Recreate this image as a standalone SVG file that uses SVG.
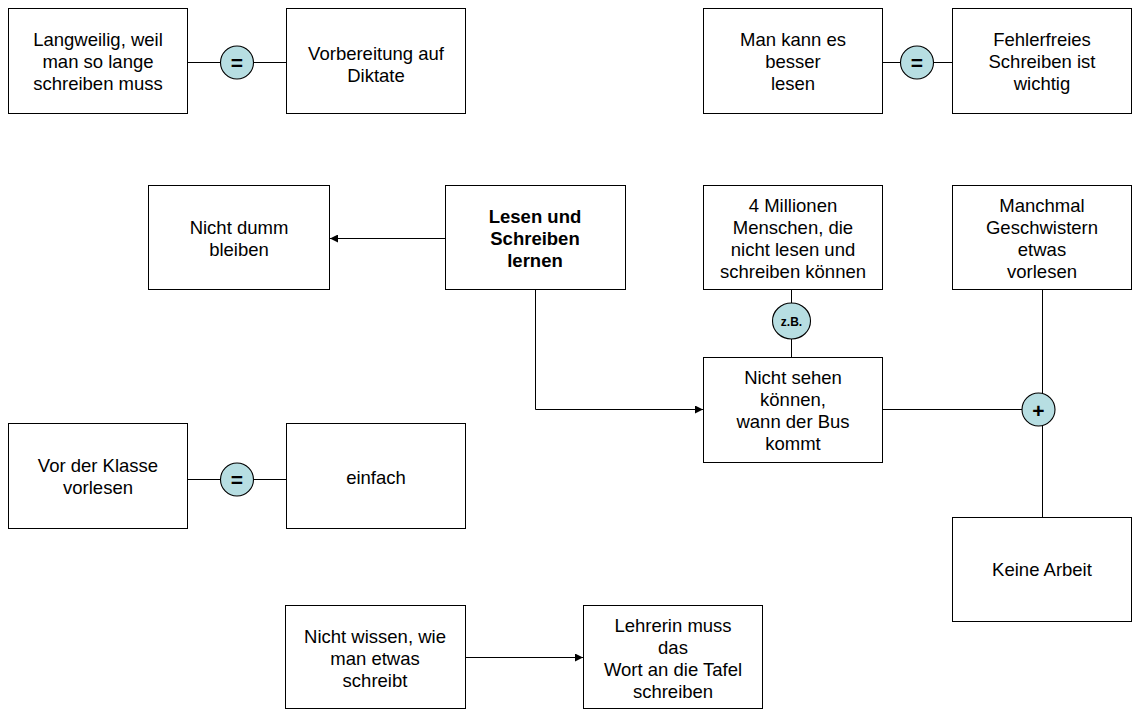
<svg xmlns="http://www.w3.org/2000/svg" width="1134" height="713" viewBox="0 0 1134 713">
  <style>
    .box { fill: #ffffff; stroke: #000000; stroke-width: 1; }
    .lbl { font-family: "Liberation Sans", Arial, sans-serif; font-size: 18.5px; fill: #000000; text-anchor: middle; }
    .bold { font-weight: bold; }
    .wire { fill: none; stroke: #000000; stroke-width: 1; }
    .op { fill: #b7dee2; stroke: #000000; stroke-width: 1.1; }
    .opt { font-family: "Liberation Sans", Arial, sans-serif; font-weight: bold; fill: #000000; text-anchor: middle; }
  </style>
  <defs>
    <marker id="arrow" viewBox="0 0 10 10" refX="10" refY="5" markerWidth="10" markerHeight="8" markerUnits="userSpaceOnUse" orient="auto">
      <path d="M0,0 L10,5 L0,10 z" fill="#000000"/>
    </marker>
  </defs>
  <rect width="1134" height="713" fill="#ffffff"/>

  <!-- connectors -->
  <g id="connectors">
    <line class="wire" x1="187" y1="62.5" x2="286" y2="62.5"/>
    <line class="wire" x1="882" y1="62.5" x2="952" y2="62.5"/>
    <line class="wire" x1="445" y1="238.5" x2="330" y2="238.5" marker-end="url(#arrow)"/>
    <polyline class="wire" points="535.5,289 535.5,409.5 703,409.5" marker-end="url(#arrow)"/>
    <line class="wire" x1="791.5" y1="289" x2="791.5" y2="357"/>
    <line class="wire" x1="882" y1="409.5" x2="1030" y2="409.5"/>
    <line class="wire" x1="1042.5" y1="289" x2="1042.5" y2="517"/>
    <line class="wire" x1="187" y1="479.5" x2="288" y2="479.5"/>
    <line class="wire" x1="465" y1="657.5" x2="583" y2="657.5" marker-end="url(#arrow)"/>
  </g>

  <!-- relation symbols -->
  <g id="op-eq-1">
    <circle class="op" cx="237" cy="62.5" r="16.5"/>
    <text class="opt" x="237" y="69.5" font-size="21">=</text>
  </g>
  <g id="op-eq-2">
    <circle class="op" cx="917" cy="62.5" r="16.5"/>
    <text class="opt" x="917" y="69.5" font-size="21">=</text>
  </g>
  <g id="op-zb">
    <ellipse class="op" cx="791.5" cy="321" rx="19" ry="18"/>
    <text class="opt" x="791.5" y="326" font-size="12">z.B.</text>
  </g>
  <g id="op-plus">
    <circle class="op" cx="1038.5" cy="409.5" r="16.5"/>
    <text class="opt" x="1038.5" y="418" font-size="21">+</text>
  </g>
  <g id="op-eq-3">
    <circle class="op" cx="237" cy="479.5" r="16.5"/>
    <text class="opt" x="237" y="486.5" font-size="21">=</text>
  </g>

  <!-- nodes -->
  <g id="n-langweilig">
    <rect class="box" x="8.5" y="8.5" width="179" height="105"/>
    <text class="lbl" x="98"><tspan x="98" y="46">Langweilig, weil</tspan><tspan x="98" y="68">man so lange</tspan><tspan x="98" y="90">schreiben muss</tspan></text>
  </g>
  <g id="n-vorbereitung">
    <rect class="box" x="286.5" y="8.5" width="179" height="105"/>
    <text class="lbl" x="376"><tspan x="376" y="60">Vorbereitung auf</tspan><tspan x="376" y="82">Diktate</tspan></text>
  </g>
  <g id="n-besser-lesen">
    <rect class="box" x="703.5" y="8.5" width="179" height="105"/>
    <text class="lbl" x="793"><tspan x="793" y="46">Man kann es</tspan><tspan x="793" y="68">besser</tspan><tspan x="793" y="90">lesen</tspan></text>
  </g>
  <g id="n-fehlerfrei">
    <rect class="box" x="952.5" y="8.5" width="179" height="105"/>
    <text class="lbl" x="1042"><tspan x="1042" y="46">Fehlerfreies</tspan><tspan x="1042" y="68">Schreiben ist</tspan><tspan x="1042" y="90">wichtig</tspan></text>
  </g>
  <g id="n-nicht-dumm">
    <rect class="box" x="148.5" y="185.5" width="181" height="104"/>
    <text class="lbl" x="239"><tspan x="239" y="234">Nicht dumm</tspan><tspan x="239" y="256">bleiben</tspan></text>
  </g>
  <g id="n-lesen-schreiben">
    <rect class="box" x="445.5" y="185.5" width="180" height="104"/>
    <text class="lbl bold" x="535"><tspan x="535" y="223">Lesen und</tspan><tspan x="535" y="245">Schreiben</tspan><tspan x="535" y="267">lernen</tspan></text>
  </g>
  <g id="n-millionen">
    <rect class="box" x="703.5" y="185.5" width="179" height="104"/>
    <text class="lbl" x="793"><tspan x="793" y="212">4 Millionen</tspan><tspan x="793" y="234">Menschen, die</tspan><tspan x="793" y="256">nicht lesen und</tspan><tspan x="793" y="278">schreiben können</tspan></text>
  </g>
  <g id="n-geschwister">
    <rect class="box" x="952.5" y="185.5" width="179" height="104"/>
    <text class="lbl" x="1042"><tspan x="1042" y="212">Manchmal</tspan><tspan x="1042" y="234">Geschwistern</tspan><tspan x="1042" y="256">etwas</tspan><tspan x="1042" y="278">vorlesen</tspan></text>
  </g>
  <g id="n-bus">
    <rect class="box" x="703.5" y="357.5" width="179" height="105"/>
    <text class="lbl" x="793"><tspan x="793" y="384">Nicht sehen</tspan><tspan x="793" y="406">können,</tspan><tspan x="793" y="428">wann der Bus</tspan><tspan x="793" y="450">kommt</tspan></text>
  </g>
  <g id="n-klasse">
    <rect class="box" x="8.5" y="423.5" width="179" height="105"/>
    <text class="lbl" x="98"><tspan x="98" y="472">Vor der Klasse</tspan><tspan x="98" y="494">vorlesen</tspan></text>
  </g>
  <g id="n-einfach">
    <rect class="box" x="286.5" y="423.5" width="179" height="105"/>
    <text class="lbl" x="376" y="484">einfach</text>
  </g>
  <g id="n-keine-arbeit">
    <rect class="box" x="952.5" y="517.5" width="179" height="104"/>
    <text class="lbl" x="1042" y="576">Keine Arbeit</text>
  </g>
  <g id="n-nicht-wissen">
    <rect class="box" x="285.5" y="605.5" width="180" height="103"/>
    <text class="lbl" x="375"><tspan x="375" y="643">Nicht wissen, wie</tspan><tspan x="375" y="665">man etwas</tspan><tspan x="375" y="687">schreibt</tspan></text>
  </g>
  <g id="n-tafel">
    <rect class="box" x="583.5" y="605.5" width="179" height="103"/>
    <text class="lbl" x="673"><tspan x="673" y="632">Lehrerin muss</tspan><tspan x="673" y="654">das</tspan><tspan x="673" y="676">Wort an die Tafel</tspan><tspan x="673" y="698">schreiben</tspan></text>
  </g>
</svg>
